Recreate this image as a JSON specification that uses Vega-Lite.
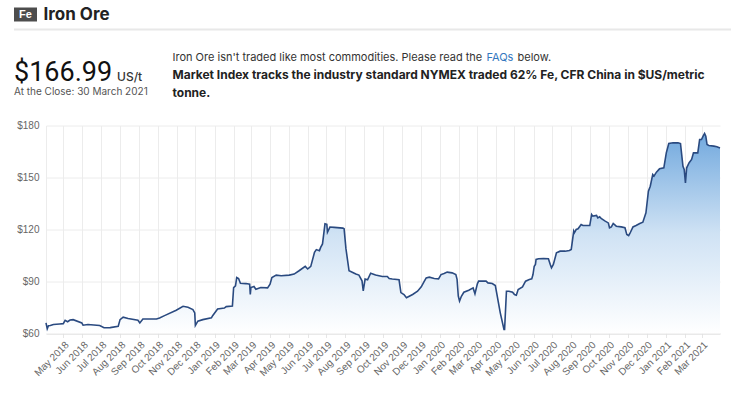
{
  "$schema": "https://vega.github.io/schema/vega-lite/v6.json",
  "background": "white",
  "padding": {"left": 14, "top": 5.5, "right": 0, "bottom": 0},
  "config": {"view": {"stroke": null}, "font": "Inter"},
  "spacing": 21,
  "vconcat": [
    {
      "spacing": 6,
      "vconcat": [
        {
          "spacing": 6,
          "hconcat": [
            {
              "width": 23, "height": 14,
              "view": {"fill": "#4d4d4d", "stroke": null},
              "data": {"values": [{"symbol": "Fe"}]},
              "mark": {"type": "text", "color": "white", "fontWeight": "bold", "fontSize": 11, "font": "Liberation Sans"},
              "encoding": {"text": {"field": "symbol"}}
            },
            {
              "width": 1, "height": 14,
              "data": {"values": [{"name": "Iron Ore"}]},
              "mark": {"type": "text", "align": "left", "baseline": "middle", "fontWeight": "bold", "fontSize": 17, "color": "#222222"},
              "encoding": {"text": {"field": "name"}}
            }
          ]
        },
        {
          "width": 717, "height": 2,
          "view": {"fill": "#e8e8e8", "stroke": null},
          "data": {"values": [{"t": ""}]},
          "mark": {"type": "text", "fontSize": 1},
          "encoding": {"text": {"field": "t"}}
        }
      ]
    },
    {
      "spacing": 22,
      "vconcat": [
        {
          "spacing": 8,
          "hconcat": [
            {
              "width": 150, "height": 36,
              "encoding": {
                "x": {"field": "col", "type": "nominal", "scale": {"type": "point", "domain": ["value", "unit"], "padding": 0.2282, "align": 0}, "axis": null},
                "y": {"field": "row", "type": "nominal", "scale": {"type": "point", "domain": ["price", "close"], "padding": 0.7857, "align": 0.9091}, "axis": null},
                "text": {"field": "label"}
              },
              "layer": [
                {
                  "data": {"values": [{"label": "$166.99", "col": "value", "row": "price"}]},
                  "mark": {"type": "text", "align": "left", "baseline": "alphabetic", "fontSize": 27, "font": "Roboto", "color": "#111111"}
                },
                {
                  "data": {"values": [{"label": "US/t", "col": "unit", "row": "price"}]},
                  "mark": {"type": "text", "align": "left", "baseline": "alphabetic", "fontSize": 12, "fontWeight": 500, "color": "#333333"}
                },
                {
                  "data": {"values": [{"label": "At the Close: 30 March 2021", "col": "value", "row": "close"}]},
                  "mark": {"type": "text", "align": "left", "baseline": "alphabetic", "fontSize": 10, "color": "#555555"}
                }
              ]
            },
            {
              "spacing": 5,
              "vconcat": [
                {
                  "spacing": 3,
                  "hconcat": [
                    {
                      "width": 1, "height": 1,
                      "data": {"values": [{"label": "Iron Ore isn't traded like most commodities. Please read the"}]},
                      "mark": {"type": "text", "align": "left", "baseline": "alphabetic", "fontSize": 11, "color": "#333333"},
                      "encoding": {"text": {"field": "label"}}
                    },
                    {
                      "width": 1, "height": 1,
                      "data": {"values": [{"label": "FAQs"}]},
                      "mark": {"type": "text", "align": "left", "baseline": "alphabetic", "fontSize": 11, "color": "#3478c0"},
                      "encoding": {"text": {"field": "label"}}
                    },
                    {
                      "width": 1, "height": 1,
                      "data": {"values": [{"label": "below."}]},
                      "mark": {"type": "text", "align": "left", "baseline": "alphabetic", "fontSize": 11, "color": "#333333"},
                      "encoding": {"text": {"field": "label"}}
                    }
                  ]
                },
                {
                  "width": 1, "height": 18,
                  "data": {"values": [
                    {"label": "Market Index tracks the industry standard NYMEX traded 62% Fe, CFR China in $US/metric", "line": "2"},
                    {"label": "tonne.", "line": "3"}
                  ]},
                  "mark": {"type": "text", "align": "left", "baseline": "alphabetic", "fontSize": 12, "fontWeight": "bold", "color": "#222222"},
                  "encoding": {
                    "y": {"field": "line", "type": "nominal", "scale": {"type": "point", "domain": ["2", "3"], "padding": 0}, "axis": null},
                    "text": {"field": "label"}
                  }
                }
              ]
            }
          ]
        },
        {
          "spacing": 0,
          "hconcat": [
            {
              "width": 1, "height": 1,
              "data": {"values": [{"t": ""}]},
              "mark": {"type": "text", "fontSize": 1},
              "encoding": {"text": {"field": "t"}}
            },
            {
              "width": 674, "height": 208,
              "data": {"values": [
                {"date": "2018/04/03", "price": 66.1}, {"date": "2018/04/05", "price": 62.7}, {"date": "2018/04/07", "price": 64.5}, {"date": "2018/04/10", "price": 64.6}, {"date": "2018/04/15", "price": 65.2}, {"date": "2018/04/25", "price": 65.5},
                {"date": "2018/05/01", "price": 65.7}, {"date": "2018/05/04", "price": 67.6}, {"date": "2018/05/08", "price": 66.8}, {"date": "2018/05/12", "price": 67.8}, {"date": "2018/05/17", "price": 68.0}, {"date": "2018/05/31", "price": 66.1},
                {"date": "2018/06/02", "price": 64.8}, {"date": "2018/06/10", "price": 65.2}, {"date": "2018/06/29", "price": 64.6},
                {"date": "2018/07/06", "price": 63.3}, {"date": "2018/07/16", "price": 63.4}, {"date": "2018/07/29", "price": 64.2},
                {"date": "2018/08/01", "price": 68.0}, {"date": "2018/08/06", "price": 69.4}, {"date": "2018/08/14", "price": 68.6}, {"date": "2018/08/30", "price": 67.6},
                {"date": "2018/09/02", "price": 66.1}, {"date": "2018/09/07", "price": 68.4}, {"date": "2018/09/29", "price": 68.4},
                {"date": "2018/10/04", "price": 69.0}, {"date": "2018/10/12", "price": 70.3}, {"date": "2018/10/31", "price": 73.4},
                {"date": "2018/11/11", "price": 75.7}, {"date": "2018/11/19", "price": 75.1}, {"date": "2018/11/27", "price": 73.8}, {"date": "2018/11/30", "price": 71.9},
                {"date": "2018/12/01", "price": 64.6}, {"date": "2018/12/05", "price": 67.1}, {"date": "2018/12/13", "price": 68.0}, {"date": "2018/12/27", "price": 69.0}, {"date": "2018/12/29", "price": 70.3},
                {"date": "2019/01/06", "price": 74.1}, {"date": "2019/01/17", "price": 74.7}, {"date": "2019/01/20", "price": 75.5}, {"date": "2019/01/30", "price": 75.9},
                {"date": "2019/02/01", "price": 86.5}, {"date": "2019/02/04", "price": 87.5}, {"date": "2019/02/06", "price": 92.3}, {"date": "2019/02/09", "price": 91.7}, {"date": "2019/02/12", "price": 89.0}, {"date": "2019/02/21", "price": 88.8}, {"date": "2019/02/27", "price": 88.5}, {"date": "2019/02/28", "price": 82.6},
                {"date": "2019/03/01", "price": 86.5}, {"date": "2019/03/06", "price": 87.1}, {"date": "2019/03/09", "price": 85.5}, {"date": "2019/03/17", "price": 86.5}, {"date": "2019/03/28", "price": 86.3},
                {"date": "2019/04/01", "price": 88.5}, {"date": "2019/04/04", "price": 92.3}, {"date": "2019/04/11", "price": 93.7}, {"date": "2019/04/19", "price": 93.3},
                {"date": "2019/05/02", "price": 93.7}, {"date": "2019/05/10", "price": 94.3}, {"date": "2019/05/18", "price": 96.2}, {"date": "2019/05/28", "price": 98.7},
                {"date": "2019/06/01", "price": 97.2}, {"date": "2019/06/06", "price": 98.7}, {"date": "2019/06/12", "price": 106.8}, {"date": "2019/06/15", "price": 108.4}, {"date": "2019/06/20", "price": 107.8}, {"date": "2019/06/22", "price": 109.7}, {"date": "2019/06/25", "price": 111.7}, {"date": "2019/06/29", "price": 123.3},
                {"date": "2019/07/02", "price": 123.0}, {"date": "2019/07/03", "price": 118.4}, {"date": "2019/07/07", "price": 121.4}, {"date": "2019/07/14", "price": 121.2}, {"date": "2019/07/28", "price": 120.8}, {"date": "2019/07/30", "price": 120.4},
                {"date": "2019/08/02", "price": 108.8}, {"date": "2019/08/07", "price": 96.2}, {"date": "2019/08/13", "price": 95.2}, {"date": "2019/08/18", "price": 94.3}, {"date": "2019/08/23", "price": 93.7}, {"date": "2019/08/28", "price": 90.4}, {"date": "2019/08/30", "price": 84.6},
                {"date": "2019/09/02", "price": 91.4}, {"date": "2019/09/06", "price": 91.0}, {"date": "2019/09/11", "price": 94.8}, {"date": "2019/09/19", "price": 93.7}, {"date": "2019/09/30", "price": 92.9},
                {"date": "2019/10/08", "price": 92.9}, {"date": "2019/10/11", "price": 91.7}, {"date": "2019/10/16", "price": 91.4}, {"date": "2019/10/27", "price": 91.0}, {"date": "2019/10/30", "price": 83.6},
                {"date": "2019/11/04", "price": 82.5}, {"date": "2019/11/08", "price": 80.6}, {"date": "2019/11/11", "price": 81.2}, {"date": "2019/11/18", "price": 82.5}, {"date": "2019/11/26", "price": 84.4},
                {"date": "2019/12/02", "price": 86.9}, {"date": "2019/12/07", "price": 90.2}, {"date": "2019/12/10", "price": 92.1}, {"date": "2019/12/15", "price": 92.5}, {"date": "2019/12/23", "price": 91.7}, {"date": "2019/12/30", "price": 91.5},
                {"date": "2020/01/03", "price": 94.0}, {"date": "2020/01/08", "price": 94.6}, {"date": "2020/01/13", "price": 95.4}, {"date": "2020/01/21", "price": 95.0}, {"date": "2020/01/27", "price": 94.0}, {"date": "2020/01/29", "price": 91.2}, {"date": "2020/01/31", "price": 81.5},
                {"date": "2020/02/02", "price": 78.7}, {"date": "2020/02/05", "price": 81.5}, {"date": "2020/02/09", "price": 83.8}, {"date": "2020/02/17", "price": 85.0}, {"date": "2020/02/24", "price": 86.3}, {"date": "2020/02/27", "price": 82.9},
                {"date": "2020/03/02", "price": 88.8}, {"date": "2020/03/04", "price": 90.2}, {"date": "2020/03/16", "price": 90.2}, {"date": "2020/03/19", "price": 89.2}, {"date": "2020/03/26", "price": 88.8}, {"date": "2020/03/31", "price": 87.7},
                {"date": "2020/04/08", "price": 71.9}, {"date": "2020/04/14", "price": 62.3}, {"date": "2020/04/15", "price": 62.3}, {"date": "2020/04/18", "price": 84.4}, {"date": "2020/04/22", "price": 84.4}, {"date": "2020/04/28", "price": 83.8},
                {"date": "2020/05/01", "price": 82.5}, {"date": "2020/05/04", "price": 82.1}, {"date": "2020/05/07", "price": 85.4}, {"date": "2020/05/14", "price": 86.9}, {"date": "2020/05/19", "price": 90.2}, {"date": "2020/05/25", "price": 91.2}, {"date": "2020/05/29", "price": 91.5}, {"date": "2020/05/31", "price": 94.0},
                {"date": "2020/06/02", "price": 98.8}, {"date": "2020/06/04", "price": 99.8}, {"date": "2020/06/05", "price": 102.7}, {"date": "2020/06/09", "price": 103.1}, {"date": "2020/06/17", "price": 103.3}, {"date": "2020/06/25", "price": 103.1}, {"date": "2020/06/28", "price": 99.8}, {"date": "2020/06/30", "price": 97.9},
                {"date": "2020/07/03", "price": 99.8}, {"date": "2020/07/08", "price": 106.5}, {"date": "2020/07/14", "price": 107.5}, {"date": "2020/07/22", "price": 107.5}, {"date": "2020/07/29", "price": 107.9},
                {"date": "2020/08/01", "price": 108.5}, {"date": "2020/08/05", "price": 119.0}, {"date": "2020/08/06", "price": 118.1}, {"date": "2020/08/09", "price": 120.0}, {"date": "2020/08/12", "price": 120.4}, {"date": "2020/08/17", "price": 122.9}, {"date": "2020/08/20", "price": 122.3}, {"date": "2020/08/31", "price": 122.3},
                {"date": "2020/09/03", "price": 128.7}, {"date": "2020/09/05", "price": 127.7}, {"date": "2020/09/11", "price": 128.1}, {"date": "2020/09/13", "price": 126.7}, {"date": "2020/09/16", "price": 127.3}, {"date": "2020/09/19", "price": 126.2}, {"date": "2020/09/25", "price": 124.8}, {"date": "2020/09/30", "price": 123.8},
                {"date": "2020/10/02", "price": 121.0}, {"date": "2020/10/05", "price": 121.5}, {"date": "2020/10/08", "price": 123.5}, {"date": "2020/10/13", "price": 121.9}, {"date": "2020/10/21", "price": 121.5}, {"date": "2020/10/27", "price": 121.0}, {"date": "2020/10/30", "price": 117.1},
                {"date": "2020/11/02", "price": 116.5}, {"date": "2020/11/04", "price": 117.7}, {"date": "2020/11/09", "price": 121.5}, {"date": "2020/11/14", "price": 122.3}, {"date": "2020/11/20", "price": 123.5}, {"date": "2020/11/25", "price": 124.2}, {"date": "2020/11/30", "price": 129.6},
                {"date": "2020/12/04", "price": 142.1}, {"date": "2020/12/07", "price": 145.0}, {"date": "2020/12/11", "price": 151.7}, {"date": "2020/12/13", "price": 150.8}, {"date": "2020/12/17", "price": 153.1}, {"date": "2020/12/22", "price": 155.0}, {"date": "2020/12/29", "price": 155.6},
                {"date": "2021/01/02", "price": 164.2}, {"date": "2021/01/06", "price": 169.6}, {"date": "2021/01/13", "price": 170.0}, {"date": "2021/01/21", "price": 170.0}, {"date": "2021/01/25", "price": 169.6}, {"date": "2021/01/29", "price": 156.5}, {"date": "2021/01/31", "price": 154.6},
                {"date": "2021/02/02", "price": 146.9}, {"date": "2021/02/04", "price": 155.6}, {"date": "2021/02/08", "price": 158.5}, {"date": "2021/02/12", "price": 160.4}, {"date": "2021/02/15", "price": 164.2}, {"date": "2021/02/22", "price": 164.2}, {"date": "2021/02/25", "price": 171.9}, {"date": "2021/02/28", "price": 171.9},
                {"date": "2021/03/03", "price": 174.2}, {"date": "2021/03/05", "price": 175.4}, {"date": "2021/03/07", "price": 173.8}, {"date": "2021/03/09", "price": 169.0}, {"date": "2021/03/12", "price": 168.5}, {"date": "2021/03/20", "price": 168.1}, {"date": "2021/03/25", "price": 167.7}, {"date": "2021/03/30", "price": 166.99}
              ]},
              "encoding": {
                "x": {
                  "field": "date", "type": "temporal",
                  "scale": {"nice": false},
                  "axis": {
                    "title": null, "format": "%b %Y",
                    "tickCount": {"interval": "month", "step": 1},
                    "labelAngle": -45, "labelFont": "Liberation Sans", "labelFontSize": 10, "labelColor": "#666666",
                    "labelOverlap": false, "labelFlush": false, "labelPadding": 2,
                    "gridColor": "#ececec", "domainColor": "#dddddd", "tickColor": "#e6e6e6", "tickSize": 4
                  }
                },
                "y": {
                  "field": "price", "type": "quantitative",
                  "scale": {"domain": [60, 180], "nice": false, "zero": false},
                  "axis": {
                    "title": null, "values": [60, 90, 120, 150, 180], "format": "$.0f",
                    "labelFont": "Liberation Sans", "labelFontSize": 10, "labelColor": "#666666", "labelPadding": 7,
                    "ticks": false, "domain": true, "domainColor": "#ececec", "gridColor": "#ececec",
                    "minExtent": 31, "maxExtent": 31
                  }
                }
              },
              "layer": [
                {
                  "mark": {
                    "type": "area",
                    "color": {
                      "gradient": "linear", "x1": 0, "y1": 1, "x2": 0, "y2": 0,
                      "stops": [
                        {"offset": 0, "color": "#ffffff"},
                        {"offset": 0.5, "color": "#cfe2f4"},
                        {"offset": 1, "color": "#72a9de"}
                      ]
                    }
                  },
                  "encoding": {"y2": {"datum": 60}}
                },
                {
                  "mark": {"type": "line", "color": "#2a4a80", "strokeWidth": 1.6}
                }
              ]
            }
          ]
        }
      ]
    }
  ]
}
